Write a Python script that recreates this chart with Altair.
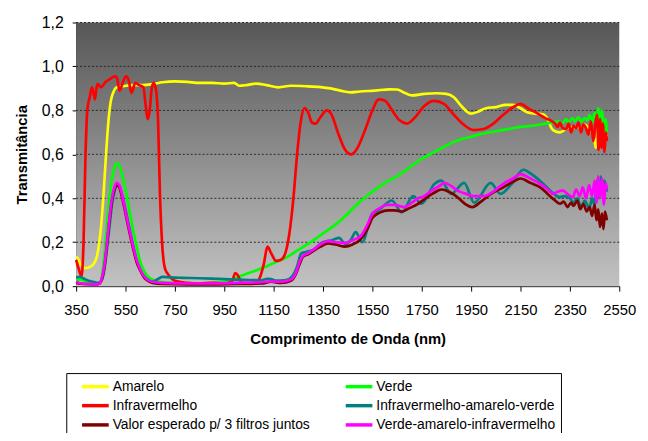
import altair as alt
import pandas as pd

names = ["Amarelo", "Verde", "Infravermelho", "Infravermelho-amarelo-verde",
         "Valor esperado p/ 3 filtros juntos", "Verde-amarelo-infravermelho"]
colors = ["#FFFF00", "#00FF00", "#FF0000", "#008080", "#800000", "#FF00FF"]
# legend fills column by column: left column first, then right column
legend_order = [names[0], names[2], names[4], names[1], names[3], names[5]]
legend_colors = [colors[0], colors[2], colors[4], colors[1], colors[3], colors[5]]

x_ticks = [350, 550, 750, 950, 1150, 1350, 1550, 1750, 1950, 2150, 2350, 2550]
y_ticks = [0.0, 0.2, 0.4, 0.6, 0.8, 1.0, 1.2]

amarelo_wl = [350, 360, 370, 385, 400, 420, 435, 450, 460, 470, 480, 490, 500, 515, 540, 580, 620, 660,
              700, 750, 800, 850, 900, 950, 990, 1010, 1040, 1080, 1120, 1170, 1220, 1280, 1340, 1380,
              1420, 1460, 1500, 1560, 1620, 1650, 1680, 1710, 1760, 1810, 1850, 1880, 1910, 1950, 1980,
              2010, 2050, 2090, 2120, 2150, 2180, 2210, 2240, 2260, 2275, 2290, 2310, 2330, 2350, 2365,
              2380, 2395, 2410, 2425, 2440, 2450, 2455, 2462, 2470, 2478, 2485, 2492, 2500]
amarelo_t = [0.135, 0.12, 0.095, 0.082, 0.085, 0.1, 0.14, 0.26, 0.4, 0.58, 0.74, 0.84, 0.88, 0.905, 0.91,
             0.915, 0.915, 0.92, 0.928, 0.932, 0.93, 0.925, 0.925, 0.922, 0.925, 0.912, 0.915, 0.922,
             0.915, 0.905, 0.912, 0.91, 0.906, 0.9, 0.89, 0.882, 0.886, 0.89, 0.896, 0.895, 0.88, 0.868,
             0.875, 0.878, 0.875, 0.86, 0.82, 0.785, 0.795, 0.81, 0.815, 0.825, 0.825, 0.81, 0.79, 0.785,
             0.782, 0.76, 0.72, 0.705, 0.7, 0.712, 0.725, 0.72, 0.73, 0.715, 0.735, 0.72, 0.7, 0.66,
             0.63, 0.7, 0.74, 0.68, 0.72, 0.67, 0.69]

verde_wl = [350, 370, 390, 410, 430, 445, 455, 465, 475, 485, 495, 505, 515, 525, 535, 550, 565, 580,
            595, 610, 625, 640, 660, 690, 750, 800, 850, 900, 950, 980, 1000, 1050, 1100, 1150, 1200,
            1250, 1300, 1350, 1400, 1450, 1500, 1550, 1600, 1650, 1700, 1750, 1800, 1850, 1900, 1950,
            2000, 2050, 2100, 2150, 2200, 2250, 2280, 2300, 2320, 2335, 2345, 2360, 2370, 2385, 2395,
            2410, 2420, 2430, 2440, 2450, 2458, 2465, 2472, 2480, 2488, 2494, 2500]
verde_t = [0.03, 0.03, 0.02, 0.015, 0.01, 0.015, 0.05, 0.15, 0.28, 0.4, 0.49, 0.54, 0.56, 0.55, 0.51,
           0.44, 0.35, 0.26, 0.18, 0.11, 0.07, 0.045, 0.03, 0.02, 0.015, 0.013, 0.012, 0.015, 0.02,
           0.03, 0.04, 0.06, 0.08, 0.105, 0.13, 0.165, 0.2, 0.24, 0.28, 0.33, 0.385, 0.43, 0.47, 0.5,
           0.54, 0.58, 0.61, 0.64, 0.665, 0.68, 0.695, 0.705, 0.715, 0.725, 0.73, 0.74, 0.745, 0.75,
           0.742, 0.76, 0.745, 0.765, 0.75, 0.77, 0.748, 0.765, 0.755, 0.78, 0.745, 0.79, 0.74, 0.81,
           0.75, 0.8, 0.7, 0.76, 0.7]

infra_wl = [350, 360, 372, 380, 388, 396, 405, 414, 420, 426, 432, 438, 450, 470, 490, 505, 515, 526,
            540, 552, 562, 574, 590, 605, 622, 632, 640, 648, 656, 664, 674, 682, 690, 698, 710, 725,
            750, 800, 850, 900, 950, 980, 995, 1005, 1020, 1060, 1090, 1110, 1125, 1140, 1160, 1180,
            1200, 1215, 1230, 1245, 1260, 1275, 1290, 1305, 1320, 1340, 1365, 1385, 1410, 1440, 1465,
            1490, 1520, 1550, 1575, 1600, 1630, 1660, 1690, 1720, 1760, 1800, 1840, 1880, 1920, 1960,
            2000, 2040, 2080, 2120, 2150, 2180, 2220, 2250, 2270, 2290, 2300, 2310, 2320, 2335, 2345,
            2355, 2365, 2375, 2385, 2395, 2405, 2415, 2425, 2435, 2445, 2452, 2460, 2466, 2472, 2478,
            2484, 2490, 2496, 2500]
infra_t = [0.12, 0.08, 0.045, 0.2, 0.6, 0.81, 0.86, 0.905, 0.88, 0.85, 0.9, 0.92, 0.905, 0.93, 0.945,
           0.955, 0.95, 0.89, 0.93, 0.955, 0.94, 0.88, 0.925, 0.915, 0.906, 0.82, 0.76, 0.8, 0.9, 0.925,
           0.89, 0.75, 0.4, 0.2, 0.08, 0.05, 0.025, 0.015, 0.012, 0.015, 0.012, 0.02, 0.06, 0.05, 0.015,
           0.01, 0.03, 0.1, 0.18, 0.15, 0.115, 0.12, 0.16, 0.25, 0.4, 0.6, 0.75, 0.81, 0.79, 0.745,
           0.74, 0.77, 0.8, 0.78, 0.7, 0.62, 0.6, 0.63, 0.71, 0.8, 0.85, 0.845, 0.8, 0.755, 0.74, 0.765,
           0.82, 0.843, 0.83, 0.78, 0.735, 0.71, 0.715, 0.74, 0.78, 0.815, 0.83, 0.81, 0.785, 0.765,
           0.755, 0.74, 0.725, 0.745, 0.72, 0.715, 0.74, 0.7, 0.73, 0.72, 0.745, 0.7, 0.735, 0.72, 0.69,
           0.75, 0.66, 0.73, 0.78, 0.62, 0.76, 0.63, 0.74, 0.61, 0.7, 0.66]

iav_wl = [350, 365, 380, 400, 420, 440, 455, 465, 475, 485, 495, 505, 515, 525, 535, 550, 565, 580,
          595, 610, 625, 640, 655, 670, 685, 700, 730, 780, 850, 900, 950, 1000, 1050, 1100, 1125,
          1140, 1160, 1200, 1225, 1245, 1262, 1280, 1309, 1349, 1389, 1415, 1442, 1465, 1482, 1509,
          1549, 1575, 1629, 1669, 1715, 1749, 1802, 1829, 1869, 1922, 1962, 2029, 2069, 2110, 2162,
          2200, 2242, 2275, 2309, 2330, 2350, 2365, 2380, 2395, 2410, 2429, 2440, 2450, 2460, 2468,
          2475, 2482, 2490, 2500]
iav_t = [0.04, 0.042, 0.035, 0.025, 0.02, 0.015, 0.03, 0.08, 0.17, 0.27, 0.37, 0.43, 0.46, 0.455,
         0.42, 0.35, 0.27, 0.19, 0.12, 0.075, 0.045, 0.03, 0.022, 0.025, 0.035, 0.042, 0.04, 0.038,
         0.036, 0.034, 0.032, 0.03, 0.028, 0.027, 0.033, 0.032, 0.025, 0.028, 0.045, 0.09, 0.15, 0.155,
         0.165, 0.2, 0.21, 0.22, 0.19, 0.215, 0.246, 0.2, 0.33, 0.345, 0.39, 0.336, 0.41, 0.375, 0.466,
         0.48, 0.42, 0.47, 0.38, 0.47, 0.42, 0.46, 0.53, 0.505, 0.466, 0.43, 0.405, 0.41, 0.4, 0.38,
         0.4, 0.36, 0.39, 0.354, 0.4, 0.37, 0.48, 0.4, 0.5, 0.42, 0.48, 0.43]

esperado_wl = [350, 380, 430, 445, 455, 465, 475, 485, 495, 505, 515, 525, 535, 550, 565, 580, 595,
               610, 625, 640, 660, 700, 800, 900, 1000, 1100, 1140, 1180, 1220, 1240, 1255, 1270, 1290,
               1310, 1340, 1370, 1400, 1440, 1470, 1500, 1530, 1550, 1580, 1614, 1640, 1670, 1700,
               1735, 1760, 1800, 1830, 1860, 1895, 1925, 1955, 1990, 2030, 2080, 2120, 2150, 2190,
               2230, 2260, 2290, 2310, 2325, 2340, 2355, 2365, 2380, 2392, 2405, 2418, 2430, 2440,
               2450, 2458, 2465, 2472, 2480, 2486, 2492, 2500]
esperado_t = [0.015, 0.01, 0.008, 0.012, 0.035, 0.09, 0.19, 0.3, 0.39, 0.44, 0.46, 0.45, 0.41, 0.33,
              0.25, 0.175, 0.11, 0.07, 0.04, 0.025, 0.015, 0.01, 0.008, 0.008, 0.01, 0.012, 0.02, 0.015,
              0.025, 0.055, 0.1, 0.135, 0.145, 0.16, 0.18, 0.195, 0.19, 0.18, 0.19, 0.21, 0.26, 0.31,
              0.335, 0.345, 0.345, 0.34, 0.355, 0.375, 0.395, 0.425, 0.44, 0.43, 0.405, 0.375, 0.36,
              0.385, 0.42, 0.45, 0.475, 0.49, 0.47, 0.45, 0.42, 0.39, 0.375, 0.385, 0.36, 0.38, 0.365,
              0.39, 0.35, 0.375, 0.34, 0.36, 0.32, 0.37, 0.3, 0.35, 0.27, 0.33, 0.26, 0.34, 0.3]

vai_wl = [350, 370, 400, 430, 445, 455, 465, 475, 485, 495, 505, 515, 525, 535, 550, 565, 580, 595,
          610, 625, 640, 660, 700, 800, 900, 1000, 1100, 1140, 1180, 1220, 1240, 1255, 1270, 1290,
          1310, 1340, 1370, 1400, 1440, 1470, 1500, 1530, 1550, 1580, 1610, 1640, 1680, 1710, 1735,
          1760, 1790, 1820, 1842, 1870, 1895, 1930, 1960, 2000, 2040, 2080, 2120, 2150, 2190, 2230,
          2260, 2282, 2300, 2322, 2340, 2362, 2375, 2390, 2402, 2415, 2428, 2440, 2450, 2458, 2465,
          2472, 2480, 2488, 2495, 2500]
vai_t = [0.02, 0.012, 0.01, 0.008, 0.012, 0.04, 0.1, 0.2, 0.31, 0.4, 0.45, 0.47, 0.46, 0.42, 0.34,
         0.26, 0.185, 0.12, 0.075, 0.045, 0.028, 0.02, 0.015, 0.012, 0.012, 0.015, 0.018, 0.022, 0.02,
         0.03, 0.06, 0.11, 0.14, 0.15, 0.165, 0.19, 0.205, 0.2, 0.197, 0.21, 0.225, 0.28, 0.33, 0.355,
         0.37, 0.37, 0.36, 0.38, 0.4, 0.41, 0.435, 0.455, 0.47, 0.455, 0.435, 0.42, 0.41, 0.41, 0.43,
         0.466, 0.49, 0.51, 0.49, 0.466, 0.44, 0.42, 0.43, 0.435, 0.42, 0.405, 0.44, 0.41, 0.45, 0.4,
         0.46, 0.41, 0.48, 0.38, 0.5, 0.4, 0.49, 0.37, 0.47, 0.44]

series = [
    (names[0], amarelo_wl, amarelo_t),
    (names[1], verde_wl, verde_t),
    (names[2], infra_wl, infra_t),
    (names[3], iav_wl, iav_t),
    (names[4], esperado_wl, esperado_t),
    (names[5], vai_wl, vai_t),
]
rows = []
for name, wl, t in series:
    for w, v in zip(wl, t):
        rows.append({"serie": name, "wl": w, "t": v})
df = pd.DataFrame(rows)

W, H = 550, 267
FONT = "Liberation Sans"

x_scale = alt.Scale(domain=[350, 2550], nice=False, zero=False)
y_scale = alt.Scale(domain=[0, 1.2], nice=False)

x_axis = alt.Axis(values=x_ticks, format="d", title="Comprimento de Onda (nm)",
                  titleFont=FONT, titleFontSize=15, titleFontWeight="bold", titleColor="black",
                  titlePadding=14, labelFont=FONT, labelFontSize=15, labelColor="black",
                  labelPadding=12, domainColor="black", tickColor="black", tickSize=5,
                  grid=False, labelFlush=False, labelOverlap=False)
y_axis = alt.Axis(values=y_ticks, labelExpr="replace(format(datum.value, '.1f'), '.', ',')",
                  title="Transmitância", titleFont=FONT, titleFontSize=15, titleFontWeight="bold",
                  titleColor="black", titlePadding=12, labelFont=FONT, labelFontSize=16,
                  labelColor="black", labelPadding=9, domainColor="black", tickColor="black",
                  tickSize=4, grid=False, labelFlush=False, labelOverlap=False)

grad = alt.LinearGradient(
    gradient="linear",
    stops=[alt.GradientStop(color="#575757", offset=0),
           alt.GradientStop(color="#c2c2c2", offset=1)],
    x1=0, x2=0, y1=0, y2=1,
)

bg = alt.Chart(pd.DataFrame({"a": [0]})).mark_rect(color=grad).encode(
    x=alt.value(0), x2=alt.value(W), y=alt.value(0), y2=alt.value(H)
)

grid = alt.Chart(pd.DataFrame({"g": y_ticks[1:]})).mark_rule(
    color="#2a2a2a", strokeDash=[2, 2], strokeWidth=1
).encode(
    y=alt.Y("g:Q", scale=y_scale, axis=y_axis),
    x=alt.value(0), x2=alt.value(W)
)

lines = alt.Chart(df).mark_line(strokeWidth=2.7, interpolate="monotone").encode(
    x=alt.X("wl:Q", scale=x_scale, axis=x_axis),
    y=alt.Y("t:Q", scale=y_scale, axis=y_axis),
    color=alt.Color(
        "serie:N", sort=legend_order,
        scale=alt.Scale(domain=legend_order, range=legend_colors),
        legend=alt.Legend(
            orient="none", legendX=-10, legendY=355, columns=2, title=None,
            symbolType="M-2,0H2", symbolStrokeWidth=3.5, symbolSize=182,
            symbolOffset=16, labelOffset=9,
            labelFont=FONT, labelFontSize=14, labelColor="black", labelLimit=400,
            strokeColor="black", fillColor="white", padding=5, rowPadding=3.5,
            columnPadding=25,
        ),
    ),
)

chart = alt.layer(bg, grid, lines).properties(
    width=W, height=H,
    padding={"left": 69, "top": 12, "right": 21, "bottom": 146},
    autosize=alt.AutoSizeParams(type="none"),
    background="white",
).configure_view(stroke=None)

chart.save("out.html", embed_options={"renderer": "svg", "actions": False})
